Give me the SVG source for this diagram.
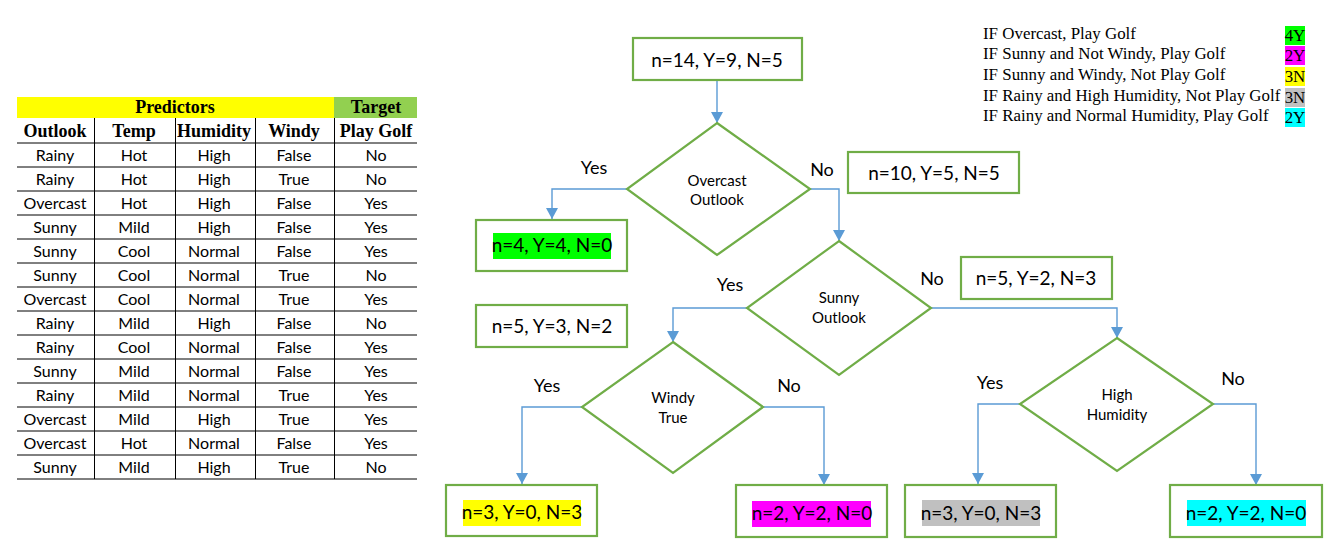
<svg xmlns="http://www.w3.org/2000/svg" width="1342" height="549" viewBox="0 0 1342 549">
<style>
.hd{font-family:"Liberation Serif","Times New Roman",serif;font-weight:bold;font-size:18px;fill:#000;text-anchor:middle}
.td{font-family:Lato,"Open Sans",sans-serif;font-size:16px;fill:#000;text-anchor:middle}
.tl{stroke:#000;stroke-width:1}
.box{fill:#fff;stroke:#70AD47;stroke-width:2.2}
.dia{fill:#fff;stroke:#70AD47;stroke-width:2.2}
.bt{font-family:Lato,"Open Sans",sans-serif;font-size:19px;fill:#000;text-anchor:middle}
.dt{font-family:Lato,"Open Sans",sans-serif;font-size:15px;fill:#000;text-anchor:middle}
.lb{font-family:Lato,"Open Sans",sans-serif;font-size:18px;fill:#000;text-anchor:middle}
.con{fill:none;stroke:#5B9BD5;stroke-width:1.4;marker-end:url(#arr)}
.lg{font-family:"Liberation Serif","Times New Roman",serif;font-size:16.9px;fill:#000}
.lgc{font-family:"Liberation Serif","Times New Roman",serif;font-size:16.9px;fill:#000;text-anchor:middle}
</style>
<defs>
<marker id="arr" markerUnits="userSpaceOnUse" markerWidth="14" markerHeight="14" viewBox="0 0 14 14" refX="12" refY="7" orient="auto">
<path d="M1,1 L12,7 L1,13 Z" fill="#5B9BD5"/>
</marker>
</defs>
<rect width="1342" height="549" fill="#fff"/>

<g id="table">
<rect x="17" y="97" width="317" height="21" fill="#FFFF00"/>
<rect x="334" y="97" width="83" height="21" fill="#92D050"/>
<text class="hd" x="175" y="113">Predictors</text>
<text class="hd" x="376" y="113">Target</text>
<text class="hd" x="55" y="137">Outlook</text>
<text class="hd" x="134" y="137">Temp</text>
<text class="hd" x="214" y="137">Humidity</text>
<text class="hd" x="294" y="137">Windy</text>
<text class="hd" x="376" y="137">Play Golf</text>
<g class="tl">
<line x1="17" y1="143" x2="417" y2="143"/>
<line x1="17" y1="167" x2="417" y2="167"/>
<line x1="17" y1="191" x2="417" y2="191"/>
<line x1="17" y1="215" x2="417" y2="215"/>
<line x1="17" y1="239" x2="417" y2="239"/>
<line x1="17" y1="263" x2="417" y2="263"/>
<line x1="17" y1="287" x2="417" y2="287"/>
<line x1="17" y1="311" x2="417" y2="311"/>
<line x1="17" y1="335" x2="417" y2="335"/>
<line x1="17" y1="359" x2="417" y2="359"/>
<line x1="17" y1="383" x2="417" y2="383"/>
<line x1="17" y1="407" x2="417" y2="407"/>
<line x1="17" y1="431" x2="417" y2="431"/>
<line x1="17" y1="455" x2="417" y2="455"/>
<line x1="17" y1="479" x2="417" y2="479"/>
<line x1="94.5" y1="118" x2="94.5" y2="479"/>
<line x1="175.5" y1="118" x2="175.5" y2="479"/>
<line x1="255.5" y1="118" x2="255.5" y2="479"/>
<line x1="334.5" y1="118" x2="334.5" y2="479"/>
</g>
<g class="td">
<text x="55" y="161">Rainy</text><text x="134" y="161">Hot</text><text x="214" y="161">High</text><text x="294" y="161">False</text><text x="376" y="161">No</text>
<text x="55" y="185">Rainy</text><text x="134" y="185">Hot</text><text x="214" y="185">High</text><text x="294" y="185">True</text><text x="376" y="185">No</text>
<text x="55" y="209">Overcast</text><text x="134" y="209">Hot</text><text x="214" y="209">High</text><text x="294" y="209">False</text><text x="376" y="209">Yes</text>
<text x="55" y="233">Sunny</text><text x="134" y="233">Mild</text><text x="214" y="233">High</text><text x="294" y="233">False</text><text x="376" y="233">Yes</text>
<text x="55" y="257">Sunny</text><text x="134" y="257">Cool</text><text x="214" y="257">Normal</text><text x="294" y="257">False</text><text x="376" y="257">Yes</text>
<text x="55" y="281">Sunny</text><text x="134" y="281">Cool</text><text x="214" y="281">Normal</text><text x="294" y="281">True</text><text x="376" y="281">No</text>
<text x="55" y="305">Overcast</text><text x="134" y="305">Cool</text><text x="214" y="305">Normal</text><text x="294" y="305">True</text><text x="376" y="305">Yes</text>
<text x="55" y="329">Rainy</text><text x="134" y="329">Mild</text><text x="214" y="329">High</text><text x="294" y="329">False</text><text x="376" y="329">No</text>
<text x="55" y="353">Rainy</text><text x="134" y="353">Cool</text><text x="214" y="353">Normal</text><text x="294" y="353">False</text><text x="376" y="353">Yes</text>
<text x="55" y="377">Sunny</text><text x="134" y="377">Mild</text><text x="214" y="377">Normal</text><text x="294" y="377">False</text><text x="376" y="377">Yes</text>
<text x="55" y="401">Rainy</text><text x="134" y="401">Mild</text><text x="214" y="401">Normal</text><text x="294" y="401">True</text><text x="376" y="401">Yes</text>
<text x="55" y="425">Overcast</text><text x="134" y="425">Mild</text><text x="214" y="425">High</text><text x="294" y="425">True</text><text x="376" y="425">Yes</text>
<text x="55" y="449">Overcast</text><text x="134" y="449">Hot</text><text x="214" y="449">Normal</text><text x="294" y="449">False</text><text x="376" y="449">Yes</text>
<text x="55" y="473">Sunny</text><text x="134" y="473">Mild</text><text x="214" y="473">High</text><text x="294" y="473">True</text><text x="376" y="473">No</text>
</g>
</g>

<g id="connectors">
<path class="con" d="M717,80 V123"/>
<path class="con" d="M627,189 H552 V219"/>
<path class="con" d="M810,189 H839 V241"/>
<path class="con" d="M747,308 H673 V342"/>
<path class="con" d="M931,308 H1117 V338"/>
<path class="con" d="M582,407 H522 V484"/>
<path class="con" d="M763,407 H824 V485"/>
<path class="con" d="M1020,404 H978 V484"/>
<path class="con" d="M1213,404 H1256 V485"/>
</g>

<g id="edge-labels">
<text class="lb" x="594" y="174">Yes</text>
<text class="lb" x="822" y="176">No</text>
<text class="lb" x="730" y="291">Yes</text>
<text class="lb" x="932" y="285">No</text>
<text class="lb" x="547" y="392">Yes</text>
<text class="lb" x="789" y="392">No</text>
<text class="lb" x="990" y="389">Yes</text>
<text class="lb" x="1233" y="385">No</text>
</g>

<g id="root">
<rect class="box" x="633" y="38" width="169" height="42"/>
<text class="bt" x="717" y="67">n=14, Y=9, N=5</text>
</g>
<g id="d-overcast">
<polygon class="dia" points="717,123 810,189 717,255 627,189"/>
<text class="dt" x="717" y="186">Overcast</text>
<text class="dt" x="717" y="205">Outlook</text>
</g>
<g id="leaf-overcast">
<rect class="box" x="476" y="220" width="151" height="51"/>
<rect x="493" y="233" width="118" height="26" fill="#00FF00"/>
<text class="bt" x="552" y="252">n=4, Y=4, N=0</text>
</g>
<g id="n10">
<rect class="box" x="848" y="152" width="171" height="41"/>
<text class="bt" x="934" y="180">n=10, Y=5, N=5</text>
</g>
<g id="d-sunny">
<polygon class="dia" points="839,241 931,308 839,375 747,308"/>
<text class="dt" x="839" y="303">Sunny</text>
<text class="dt" x="839" y="323">Outlook</text>
</g>
<g id="n5a">
<rect class="box" x="961" y="257" width="151" height="42"/>
<text class="bt" x="1036" y="285">n=5, Y=2, N=3</text>
</g>
<g id="n5b">
<rect class="box" x="476" y="305" width="151" height="42"/>
<text class="bt" x="552" y="333">n=5, Y=3, N=2</text>
</g>
<g id="d-windy">
<polygon class="dia" points="673,342 763,407 673,473 582,407"/>
<text class="dt" x="673" y="403">Windy</text>
<text class="dt" x="673" y="423">True</text>
</g>
<g id="leaf-windy-yes">
<rect class="box" x="446" y="485" width="151" height="51"/>
<rect x="463" y="500" width="118" height="26" fill="#FFFF00"/>
<text class="bt" x="522" y="519">n=3, Y=0, N=3</text>
</g>
<g id="leaf-windy-no">
<rect class="box" x="736" y="485" width="151" height="52"/>
<rect x="752" y="501" width="119" height="26" fill="#FF00FF"/>
<text class="bt" x="812" y="520">n=2, Y=2, N=0</text>
</g>
<g id="d-humidity">
<polygon class="dia" points="1117,338 1213,404 1117,471 1020,404"/>
<text class="dt" x="1117" y="400">High</text>
<text class="dt" x="1117" y="420">Humidity</text>
</g>
<g id="leaf-hum-yes">
<rect class="box" x="905" y="485" width="151" height="52"/>
<rect x="922" y="500" width="118" height="26" fill="#C0C0C0"/>
<text class="bt" x="981" y="520">n=3, Y=0, N=3</text>
</g>
<g id="leaf-hum-no">
<rect class="box" x="1170" y="485" width="152" height="52"/>
<rect x="1187" y="500" width="119" height="26" fill="#00FFFF"/>
<text class="bt" x="1246" y="520">n=2, Y=2, N=0</text>
</g>

<g id="legend">
<text class="lg" x="983" y="39">IF Overcast, Play Golf</text>
<text class="lg" x="983" y="59">IF Sunny and Not Windy, Play Golf</text>
<text class="lg" x="983" y="80">IF Sunny and Windy, Not Play Golf</text>
<text class="lg" x="983" y="101">IF Rainy and High Humidity, Not Play Golf</text>
<text class="lg" x="983" y="121">IF Rainy and Normal Humidity, Play Golf</text>
<rect x="1285" y="26" width="20" height="19" fill="#00FF00"/>
<rect x="1285" y="46" width="20" height="19" fill="#FF00FF"/>
<rect x="1285" y="67" width="20" height="19" fill="#FFFF00"/>
<rect x="1285" y="88" width="20" height="19" fill="#C0C0C0"/>
<rect x="1285" y="108" width="20" height="19" fill="#00FFFF"/>
<text class="lgc" x="1295" y="41">4Y</text>
<text class="lgc" x="1295" y="61">2Y</text>
<text class="lgc" x="1295" y="82">3N</text>
<text class="lgc" x="1295" y="103">3N</text>
<text class="lgc" x="1295" y="123">2Y</text>
</g>
</svg>
